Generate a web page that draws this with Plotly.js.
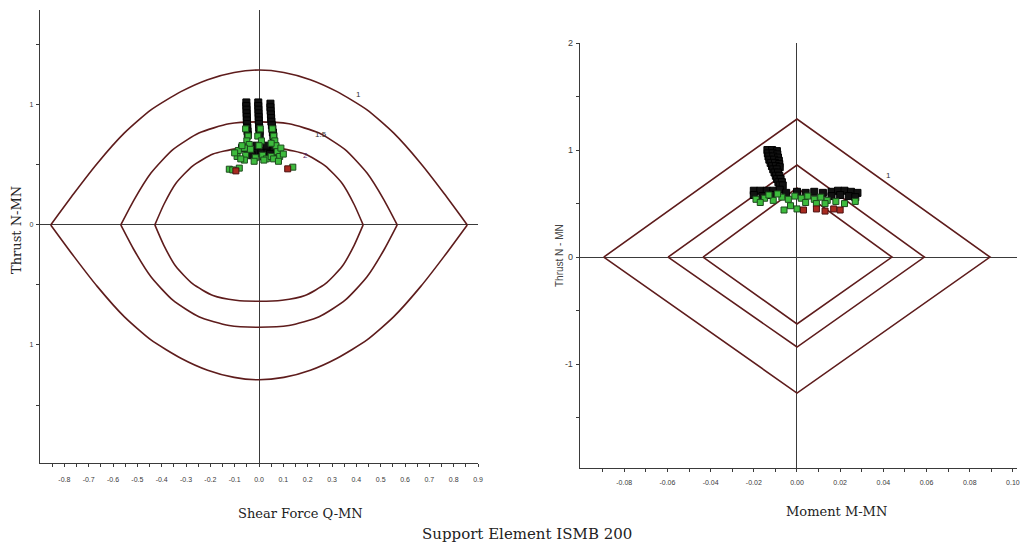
<!DOCTYPE html>
<html>
<head>
<meta charset="utf-8">
<script src="https://cdn.plot.ly/plotly-3.0.1.min.js"></script>
<style>html,body{margin:0;padding:0;background:#fff;}#chart{width:1025px;height:547px;}</style>
</head>
<body>
<div id="chart"></div>
<script>
// ---------- Left panel: Shear force – Thrust interaction curves ----------
var curve1Q = [-0.856,-0.76,-0.664,-0.554,-0.444,-0.321,-0.211,-0.102,0,0.102,0.211,0.321,0.444,0.554,0.664,0.76,0.856];
var curve1Nup = [0,0.264,0.514,0.764,0.958,1.11,1.21,1.27,1.29,1.27,1.21,1.11,0.958,0.764,0.514,0.264,0];
var curve1Nlow = [0,-0.264,-0.514,-0.764,-0.958,-1.11,-1.21,-1.27,-1.29,-1.27,-1.21,-1.11,-0.958,-0.764,-0.514,-0.264,0];

var curve15Q = [-0.568,-0.514,-0.444,-0.354,-0.247,-0.123,0,0.123,0.247,0.354,0.444,0.514,0.568];
var curve15Nup = [0,0.207,0.432,0.627,0.765,0.842,0.858,0.842,0.765,0.627,0.432,0.207,0];
var curve15Nlow = [0,-0.207,-0.432,-0.627,-0.765,-0.838,-0.852,-0.838,-0.765,-0.627,-0.432,-0.207,0];

var curve2Q = [-0.428,-0.391,-0.342,-0.272,-0.189,-0.095,0,0.095,0.189,0.272,0.342,0.391,0.428];
var curve2Nup = [0,0.17,0.345,0.492,0.59,0.633,0.642,0.633,0.59,0.492,0.345,0.17,0];
var curve2Nlow = [0,-0.17,-0.345,-0.492,-0.588,-0.628,-0.636,-0.628,-0.588,-0.492,-0.345,-0.17,0];

var leftBlackQ = [-0.052,-0.052,-0.051,-0.051,-0.050,-0.050,-0.049,-0.048,-0.047,-0.046,
  -0.003,-0.003,-0.002,-0.002,-0.001,-0.001,0.000,0.001,0.002,0.003,
  0.047,0.047,0.048,0.049,0.050,0.051,0.053,0.055,0.057,0.059,
  -0.07,-0.045,-0.02,0.01,0.035,0.06,-0.03,0.02,0.045,-0.01,0.03,0.075];
var leftBlackN = [1.02,0.99,0.96,0.93,0.90,0.87,0.84,0.81,0.78,0.75,
  1.02,0.99,0.96,0.93,0.90,0.87,0.84,0.81,0.78,0.75,
  1.01,0.98,0.95,0.92,0.89,0.86,0.83,0.80,0.77,0.74,
  0.64,0.62,0.61,0.60,0.62,0.63,0.58,0.57,0.59,0.66,0.66,0.60];
var leftGreenQ = [-0.055,-0.045,-0.05,-0.04,-0.06,0.005,-0.005,0.01,0.0,0.055,0.06,0.065,0.07,0.05,
  -0.085,-0.07,-0.055,-0.035,-0.015,0.015,0.03,0.05,0.075,0.09,0.085,-0.09,-0.06,-0.02,0.02,0.06,
  -0.075,0.08,-0.1,0.1,
  -0.122,-0.108,-0.081,0.139];
var leftGreenN = [0.80,0.74,0.70,0.67,0.64,0.80,0.74,0.70,0.66,0.80,0.74,0.70,0.66,0.68,
  0.62,0.66,0.58,0.63,0.56,0.58,0.55,0.57,0.61,0.64,0.57,0.57,0.54,0.53,0.54,0.55,
  0.55,0.53,0.60,0.59,
  0.464,0.458,0.473,0.481];
var leftRedQ = [-0.095,0.118];
var leftRedN = [0.45,0.467];

// ---------- Right panel: Moment – Thrust interaction diamonds ----------
var dia1M = [-0.0895,0,0.0894,0,-0.0895];
var dia1N = [0,1.29,0,-1.27,0];
var dia15M = [-0.0597,0,0.059,0,-0.0597];
var dia15N = [0,0.86,0,-0.84,0];
var dia2M = [-0.0435,0,0.044,0,-0.0435];
var dia2N = [0,0.645,0,-0.625,0];

var rightBlackM = [-0.0137,-0.0115,-0.0093,-0.0135,-0.0113,-0.0091,-0.0132,-0.011,-0.0088,-0.0128,-0.0106,-0.0084,
  -0.0122,-0.0102,-0.0082,-0.0116,-0.0098,-0.0080,-0.0110,-0.0094,-0.0104,-0.0088,-0.0098,-0.0082,-0.0092,-0.0076,-0.0086,-0.0070,-0.0080,-0.0066,
  -0.020,-0.017,-0.014,-0.011,-0.008,-0.020,-0.016,-0.012,-0.005,0.000,0.004,0.008,0.012,0.016,0.019,0.022,0.025,0.028,0.020,0.024,0.027,0.016];
var rightBlackN = [1.00,1.00,0.99,0.97,0.97,0.96,0.94,0.94,0.93,0.91,0.91,0.90,
  0.88,0.88,0.87,0.85,0.85,0.84,0.82,0.82,0.79,0.79,0.76,0.76,0.73,0.73,0.70,0.70,0.67,0.67,
  0.62,0.62,0.62,0.62,0.63,0.58,0.57,0.58,0.60,0.61,0.60,0.61,0.60,0.61,0.62,0.62,0.61,0.60,0.58,0.57,0.56,0.57];
var rightGreenM = [-0.019,-0.015,-0.011,-0.007,-0.004,-0.001,0.002,0.005,0.008,0.011,0.014,0.004,0.009,0.013,-0.003,-0.006,0.0,-0.017,-0.013,-0.009,0.018,0.022,0.027];
var rightGreenN = [0.54,0.55,0.53,0.56,0.54,0.57,0.55,0.57,0.54,0.56,0.53,0.51,0.50,0.50,0.48,0.44,0.45,0.51,0.58,0.59,0.52,0.50,0.52];
var rightRedM = [0.003,0.009,0.013,0.017,0.020];
var rightRedN = [0.44,0.45,0.43,0.45,0.44];

var xTicksLeft = [-0.8,-0.7,-0.6,-0.5,-0.4,-0.3,-0.2,-0.1,0.0,0.1,0.2,0.3,0.4,0.5,0.6,0.7,0.8,0.9];
var xTickTextLeft = ['-0.8','-0.7','-0.6','-0.5','-0.4','-0.3','-0.2','-0.1','0.0','0.1','0.2','0.3','0.4','0.5','0.6','0.7','0.8','0.9'];
var yTicksLeft = [-1,0,1];
var yTickTextLeft = ['1','0','1'];
var xTicksRight = [-0.08,-0.06,-0.04,-0.02,0.00,0.02,0.04,0.06,0.08,0.10];
var xTickTextRight = ['-0.08','-0.06','-0.04','-0.02','0.00','0.02','0.04','0.06','0.08','0.10'];
var yTicksRight = [-1,0,1,2];
var yTickTextRight = ['-1','0','1','2'];

var curveColor = '#5e1c1c';
var lineStyle = {color: curveColor, width: 1.6, shape: 'spline', smoothing: 0.6};
var diaStyle = {color: curveColor, width: 1.6};

function mk(color, line, size) {
  return {symbol: 'square', size: size || 6, color: color, line: {color: line, width: 1}};
}

var traces = [
  {x: curve1Q, y: curve1Nup, mode: 'lines', line: lineStyle, xaxis: 'x', yaxis: 'y'},
  {x: curve1Q, y: curve1Nlow, mode: 'lines', line: lineStyle, xaxis: 'x', yaxis: 'y'},
  {x: curve15Q, y: curve15Nup, mode: 'lines', line: lineStyle, xaxis: 'x', yaxis: 'y'},
  {x: curve15Q, y: curve15Nlow, mode: 'lines', line: lineStyle, xaxis: 'x', yaxis: 'y'},
  {x: curve2Q, y: curve2Nup, mode: 'lines', line: lineStyle, xaxis: 'x', yaxis: 'y'},
  {x: curve2Q, y: curve2Nlow, mode: 'lines', line: lineStyle, xaxis: 'x', yaxis: 'y'},
  {x: leftBlackQ, y: leftBlackN, mode: 'markers', marker: mk('#111111', '#000000', 7), xaxis: 'x', yaxis: 'y'},
  {x: leftGreenQ, y: leftGreenN, mode: 'markers', marker: mk('#3dbb3d', '#1d4a1d'), xaxis: 'x', yaxis: 'y'},
  {x: leftRedQ, y: leftRedN, mode: 'markers', marker: mk('#a82a20', '#4a1010'), xaxis: 'x', yaxis: 'y'},

  {x: dia1M, y: dia1N, mode: 'lines', line: diaStyle, xaxis: 'x2', yaxis: 'y2'},
  {x: dia15M, y: dia15N, mode: 'lines', line: diaStyle, xaxis: 'x2', yaxis: 'y2'},
  {x: dia2M, y: dia2N, mode: 'lines', line: diaStyle, xaxis: 'x2', yaxis: 'y2'},
  {x: rightBlackM, y: rightBlackN, mode: 'markers', marker: mk('#111111', '#000000', 7), xaxis: 'x2', yaxis: 'y2'},
  {x: rightGreenM, y: rightGreenN, mode: 'markers', marker: mk('#3dbb3d', '#1d4a1d'), xaxis: 'x2', yaxis: 'y2'},
  {x: rightRedM, y: rightRedN, mode: 'markers', marker: mk('#a82a20', '#4a1010'), xaxis: 'x2', yaxis: 'y2'}
];

var axCol = '#3a3a3a';
var tickFont = {family: 'Liberation Sans, Arial, sans-serif', size: 7, color: '#3a3a3a'};
function baseAxis(extra) {
  var a = {showgrid: false, zeroline: true, zerolinecolor: axCol, zerolinewidth: 1,
    showline: true, linecolor: axCol, linewidth: 1.3, ticks: 'outside', ticklen: 3,
    tickcolor: axCol, tickwidth: 1, tickfont: tickFont, fixedrange: true, tickmode: 'array'};
  for (var k in extra) a[k] = extra[k];
  return a;
}

var serif = 'DejaVu Serif, Liberation Serif, serif';
function ann(text, px, py, font, angle) {
  var a = {text: text, x: px/1025, y: 1 - py/547, xref: 'paper', yref: 'paper', xanchor: 'center', yanchor: 'middle', showarrow: false, font: font};
  if (angle) a.textangle = angle;
  return a;
}
var layout = {
  width: 1025, height: 547,
  margin: {l: 0, r: 0, t: 0, b: 0},
  paper_bgcolor: '#ffffff', plot_bgcolor: '#ffffff',
  showlegend: false,
  xaxis: baseAxis({domain: [40/1025, 478/1025], range: [-0.9, 0.9], anchor: 'y',
    tickvals: xTicksLeft, ticktext: xTickTextLeft, ticklabelstandoff: 6,
    minor: {tickvals: [-0.85,-0.75,-0.65,-0.55,-0.45,-0.35,-0.25,-0.15,-0.05,0.05,0.15,0.25,0.35,0.45,0.55,0.65,0.75,0.85], ticks: 'outside', ticklen: 3, tickcolor: axCol}}),
  yaxis: baseAxis({domain: [84/547, 537/547], range: [-1.983, 1.79], anchor: 'x',
    tickvals: yTicksLeft, ticktext: yTickTextLeft, ticklabelstandoff: 1,
    minor: {tickvals: [-1.5,-0.5,0.5,1.5], ticks: 'outside', ticklen: 3, tickcolor: axCol}}),
  xaxis2: baseAxis({domain: [580/1025, 1017/1025], range: [-0.1005, 0.1019], anchor: 'y2',
    tickvals: xTicksRight, ticktext: xTickTextRight, ticklabelstandoff: 4,
    minor: {tickvals: [-0.09,-0.07,-0.05,-0.03,-0.01,0.01,0.03,0.05,0.07,0.09], ticks: 'outside', ticklen: 3, tickcolor: axCol}}),
  yaxis2: baseAxis({domain: [79/547, 504/547], range: [-1.97, 2.0], anchor: 'x2',
    tickvals: yTicksRight, ticktext: yTickTextRight, ticklabelstandoff: 1,
    tickfont: {family: 'Liberation Sans, Arial, sans-serif', size: 9, color: '#3a3a3a'},
    minor: {tickvals: [-1.5,-0.5,0.5,1.5], ticks: 'outside', ticklen: 3, tickcolor: axCol}}),
  annotations: [
    {text: '1', x: 0.407, y: 1.083, xref: 'x', yref: 'y', showarrow: false, font: {family: 'Liberation Sans, sans-serif', size: 8, color: '#333'}},
    {text: '1.5', x: 0.256, y: 0.75, xref: 'x', yref: 'y', showarrow: false, font: {family: 'Liberation Sans, sans-serif', size: 8, color: '#333'}},
    {text: '2', x: 0.19, y: 0.575, xref: 'x', yref: 'y', showarrow: false, font: {family: 'Liberation Sans, sans-serif', size: 8, color: '#5a2a6a'}},
    {text: '1', x: 0.0425, y: 0.765, xref: 'x2', yref: 'y2', showarrow: false, font: {family: 'Liberation Sans, sans-serif', size: 8, color: '#333'}},
    ann('Shear Force Q-MN', 300, 513, {family: serif, size: 13, color: '#222'}),
    ann('Moment M-MN', 836, 511, {family: serif, size: 13, color: '#222'}),
    ann('Thrust N-MN', 17, 230, {family: serif, size: 13, color: '#222'}, -90),
    ann('Thrust N - MN', 559, 256, {family: 'Liberation Sans, Arial, sans-serif', size: 10, color: '#444'}, -90),
    ann('Support Element ISMB 200', 527, 534, {family: serif, size: 15, color: '#222'})
  ]
};

Plotly.newPlot('chart', traces, layout, {displayModeBar: false, staticPlot: true});
</script>
</body>
</html>
